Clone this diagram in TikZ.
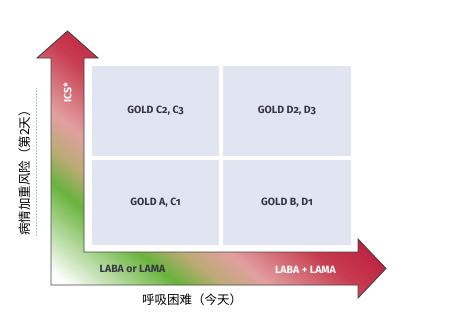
\documentclass[tikz,border=0pt]{standalone}
\usepackage{fontspec}
\newfontfamily\cjkfont{Noto Sans CJK SC}
\newfontfamily\labfont[Numbers=OldStyle]{Fira Sans}
\definecolor{boxfill}{RGB}{225,228,241}
\definecolor{boxtext}{RGB}{55,55,70}
\definecolor{cgreen}{RGB}{105,180,60}
\definecolor{colive}{RGB}{190,170,120}
\definecolor{cpink}{RGB}{226,160,160}
\definecolor{cred}{RGB}{200,60,80}
\definecolor{ccrim}{RGB}{185,25,58}
\definecolor{outl}{RGB}{70,70,70}
\definecolor{dotblue}{RGB}{170,195,220}
\begin{document}
\begin{tikzpicture}[x=1pt,y=-1pt,
  quad/.style={fill=boxfill, draw=none, inner sep=0pt,
    font=\labfont\bfseries\fontsize{10.5}{12}\selectfont, text=boxtext},
  armlabel/.style={inner sep=0pt, font=\labfont\bfseries\fontsize{10.5}{12}\selectfont},
  axislabel/.style={inner sep=0pt, font=\cjkfont\fontsize{12.5}{14}\selectfont, text=black}]
\useasboundingbox (0,0) rectangle (458,330);
\def\arrowpath{(51,285) -- (51,58) -- (37,58) -- (67.5,31) -- (98,58) -- (84,58)
  -- (84,252) -- (358,252) -- (358,239) -- (386,268.5) -- (358,298) -- (358,285) -- cycle}
% gradient fill of the L-shaped double arrow
\begin{scope}
  \clip \arrowpath;
  \foreach \sa/\sb/\ca/\cb in {0/10/white/white, 10/80/white/cgreen,
      80/108/cgreen/colive, 108/136/colive/cpink, 136/190/cpink/cred, 190/240/cred/ccrim} {
    \pgfmathtruncatemacro\n{(\sb-\sa)/2-1}
    \foreach \i in {0,...,\n} {
      \pgfmathsetmacro\s{\sa+2*\i}
      \pgfmathsetmacro\p{100-100*(2*\i+1)/(\sb-\sa)}
      \colorlet{stripc}{\ca!\p!\cb}
      \fill[stripc] ({51+0.625*\s-234.3},{285-0.781*\s-187.5})
        -- ({51+0.625*\s+234.3},{285-0.781*\s+187.5})
        -- ({51+0.625*(\s+2.6)+234.3},{285-0.781*(\s+2.6)+187.5})
        -- ({51+0.625*(\s+2.6)-234.3},{285-0.781*(\s+2.6)-187.5}) -- cycle;
    }
  }
\end{scope}
\draw[outl, line width=0.9pt, line join=miter] \arrowpath;
% quadrants
\node[quad, minimum width=127pt, minimum height=90pt] (c) at (155.5,111) {GOLD C2, C3};
\node[quad, minimum width=128pt, minimum height=90pt] (d) at (287,111) {GOLD D2, D3};
\node[quad, minimum width=127pt, minimum height=85pt] (a) at (155.5,202.5) {GOLD A, C1};
\node[quad, minimum width=128pt, minimum height=85pt] (b) at (287,202.5) {GOLD B, D1};
% arm labels
\node[armlabel, text=white, rotate=90] (ics) at (67.5,93) {ICS*};
\node[armlabel, text=boxtext] (lor) at (132.5,269) {LABA or LAMA};
\node[armlabel, text=white] (land) at (305.5,269.5) {LABA + LAMA};
% axis labels
\node[axislabel, rotate=90] (ylab) at (25,170) {病情加重风险（第2天）};
\node[axislabel] (xlab) at (192,300) {呼吸困难（今天）};
% faint dotted guide
\coordinate (g1) at (36,88);
\coordinate (g2) at (36,236);
\draw[dotblue, line width=0.5pt, densely dotted] (g1) -- (g2);
\end{tikzpicture}
\end{document}
